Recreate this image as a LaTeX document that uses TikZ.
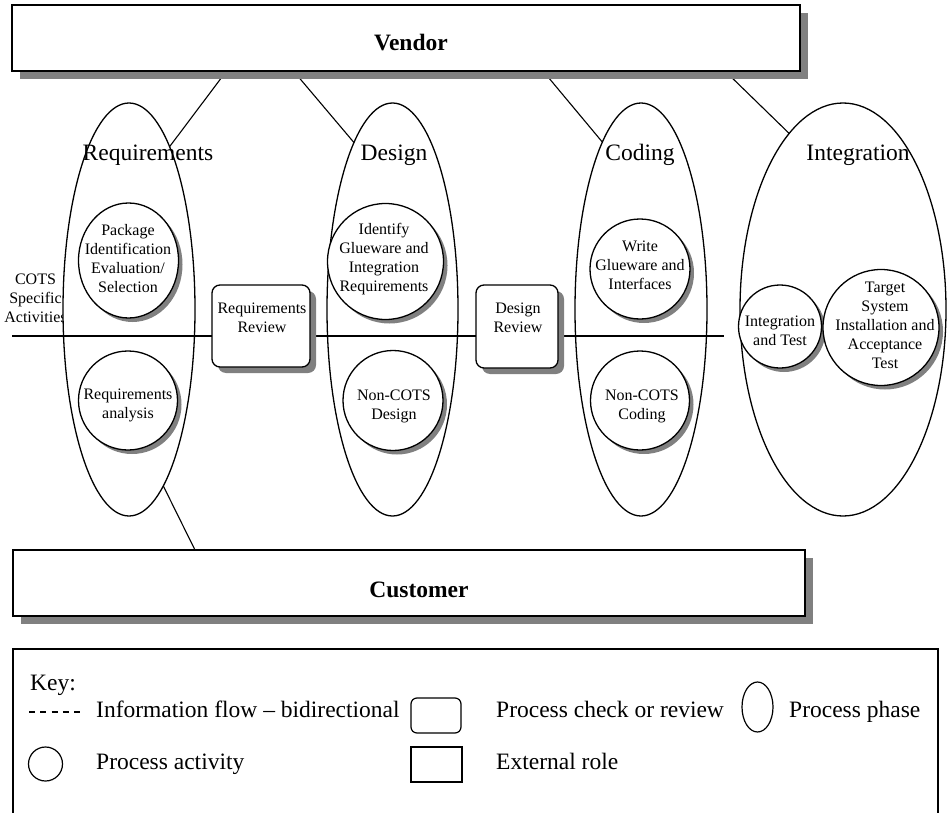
\documentclass[tikz,border=0pt]{standalone}
\usepackage{fontspec}
\setmainfont{Liberation Serif}
\usetikzlibrary{shapes.geometric,shadows,calc}
\definecolor{shade}{RGB}{128,128,128}
\newcommand\actfont{\fontsize{16}{19}\selectfont}
\newcommand\labfont{\fontsize{23.5}{28}\selectfont}
\pgfdeclarelayer{phases}
\pgfdeclarelayer{flows}
\pgfsetlayers{phases,flows,main}

\begin{document}
\begin{tikzpicture}[x=1pt,y=-1pt,
  phase/.style={ellipse, draw, line width=1.3pt, fill=white, inner sep=0pt, outer sep=0pt},
  activity/.style={ellipse, draw, line width=1.3pt, fill=white, inner sep=0pt, outer sep=0pt,
    drop shadow={shadow xshift=4pt, shadow yshift=-4pt, fill=shade, opacity=1}},
  acttext/.style={font=\actfont, align=center, inner sep=0pt},
  review/.style={rectangle, rounded corners=8pt, draw, line width=1.3pt, fill=white, inner sep=0pt, outer sep=0pt,
    drop shadow={shadow xshift=6pt, shadow yshift=-6pt, fill=shade, opacity=1}},
  role/.style={rectangle, draw, line width=1.5pt, fill=white, inner sep=0pt, outer sep=0pt,
    drop shadow={shadow xshift=8pt, shadow yshift=-8pt, fill=shade, opacity=1}},
  rolelabel/.style={font=\labfont\bfseries, inner sep=0pt},
  phaselabel/.style={font=\labfont, inner sep=0pt, anchor=base},
  keytext/.style={font=\labfont, inner sep=0pt, anchor=base west},
  keyshape/.style={draw, line width=1.2pt, inner sep=0pt, outer sep=0pt},
  link/.style={line width=1.1pt},
]
\useasboundingbox (0,0) rectangle (947,813);

\begin{pgfonlayer}{phases}
  % side caption of the COTS row (partly hidden behind the first phase)
  \node[acttext] (cots) at (35.5,298) {COTS\\Specific\\Activities};
  % process phases
  \node[phase, minimum width=132pt, minimum height=413pt] (req) at (129,309.5) {};
  \node[phase, minimum width=131pt, minimum height=413pt] (des) at (392.5,309.5) {};
  \node[phase, minimum width=132pt, minimum height=413pt] (cod) at (641,309.5) {};
  \node[phase, minimum width=206pt, minimum height=413pt] (int) at (843,309.5) {};
  \node[phaselabel] (reqL) at (148,161) {Requirements};
  \node[phaselabel] (desL) at (394,161) {Design};
  \node[phaselabel] (codL) at (640,161) {Coding};
  \node[phaselabel] (intL) at (858,161) {Integration};
\end{pgfonlayer}

% external roles
\node[role, minimum width=788pt, minimum height=66pt] (vendor) at (406,38) {};
\node[rolelabel] (vendorT) at (411,43) {Vendor};
\node[role, minimum width=792pt, minimum height=66pt] (customer) at (409,583) {};
\node[rolelabel] (customerT) at (419,590) {Customer};

\begin{pgfonlayer}{flows}
  % COTS-specific row divider
  \coordinate (cotsL) at (12,336);
  \coordinate (cotsR) at (724,336);
  \draw[link] (cotsL) -- (cotsR);
  % information flow between roles and phases
  \draw[link] ($(vendor.south west)!0.2722!(vendor.south east)$) -- (req.76.7);
  \draw[link] ($(vendor.south west)!0.3572!(vendor.south east)$) -- (des.103.5);
  \draw[link] ($(vendor.south west)!0.6739!(vendor.south east)$) -- (cod.103.3);
  \draw[link] ($(vendor.south west)!0.9048!(vendor.south east)$) -- (int.107.1);
  \draw[link] (req.281.2) -- ($(customer.north west)!0.2298!(customer.north east)$);
\end{pgfonlayer}

% reviews
\node[review, minimum width=98pt, minimum height=82pt] (rrev) at (261,326) {};
\node[acttext] (rrevT) at (262,318) {Requirements\\Review};
\node[review, minimum width=82pt, minimum height=83pt] (drev) at (517,326.5) {};
\node[acttext] (drevT) at (518,318) {Design\\Review};

% process activities
\node[activity, minimum width=100pt, minimum height=115pt] (pkg) at (128.5,260.5) {};
\node[acttext] (pkgT) at (128,259) {Package\\Identification\\Evaluation/\\Selection};
\node[activity, minimum size=99pt] (ra) at (128,400.5) {};
\node[acttext] (raT) at (128,405) {Requirements\\analysis};

\node[activity, minimum size=116pt] (igr) at (385.5,261.5) {};
\node[acttext] (igrT) at (384,259) {Identify\\Glueware and\\Integration\\Requirements};
\node[activity, minimum size=100pt] (ncd) at (393,400.5) {};
\node[acttext] (ncdT) at (394,406.5) {Non-COTS\\Design};

\node[activity, minimum size=100pt] (wgi) at (640,269) {};
\node[acttext] (wgiT) at (640,265.5) {Write\\Glueware and\\Interfaces};
\node[activity, minimum size=99pt] (ncc) at (640,400.5) {};
\node[acttext] (nccT) at (642,406.5) {Non-COTS\\Coding};

\node[activity, minimum size=83pt] (it) at (780,326.5) {};
\node[acttext] (itT) at (780,331) {Integration\\and Test};
\node[activity, minimum size=116pt] (tsi) at (881,327.5) {};
\node[acttext] (tsiT) at (885,325.5) {Target\\System\\Installation and\\Acceptance\\Test};

% key
\node[keyshape, rectangle, minimum width=925pt, minimum height=190pt, anchor=north west] (keybox) at (13,649) {};
\node[keytext] (keyT) at (30,690) {Key:};
\coordinate (dashA) at (29,712);
\coordinate (dashB) at (80,712);
\draw[line width=1.1pt, dash pattern=on 6pt off 5.25pt] (dashA) -- (dashB);
\node[keytext] (flowT) at (96,717) {Information flow – bidirectional};
\node[keyshape, rectangle, rounded corners=6pt, minimum width=50pt, minimum height=35pt] (keyrev) at (436,715.5) {};
\node[keytext] (revT) at (496,717) {Process check or review};
\node[keyshape, ellipse, minimum width=31pt, minimum height=50pt] (keyphase) at (757.5,707) {};
\node[keytext] (phaseT) at (789,717) {Process phase};
\node[keyshape, circle, minimum size=34pt] (keyact) at (45.5,764) {};
\node[keytext] (actT) at (96,769) {Process activity};
\node[keyshape, rectangle, minimum width=51pt, minimum height=35pt] (keyrole) at (436.5,764.5) {};
\node[keytext] (roleT) at (496,769) {External role};
\end{tikzpicture}
\end{document}
